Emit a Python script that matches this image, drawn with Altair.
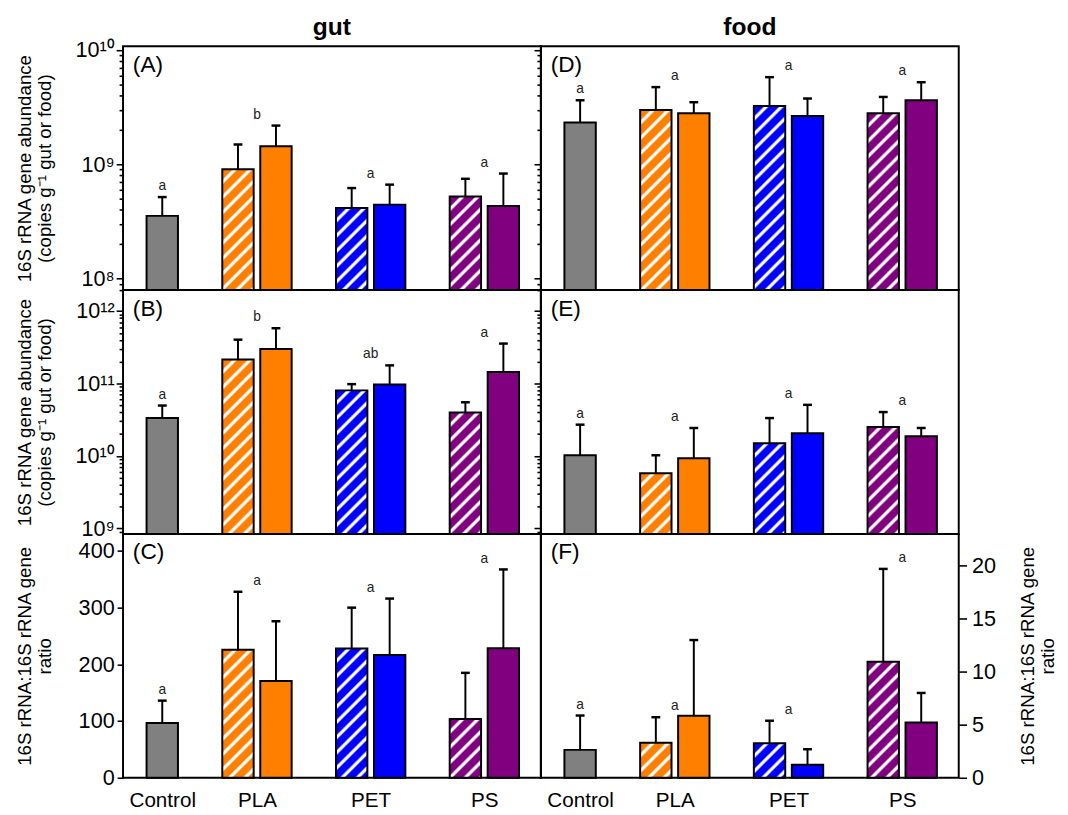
import math
import altair as alt
import pandas as pd

FONT = "Liberation Sans"

CATEGORIES = ["Control", "PLA", "PET", "PS"]
POLYMERS = ["PLA", "PET", "PS"]

# ---- (A) gut : 16S rRNA gene abundance ----
A_control = 3.54e8
A_control_err = 5.17e8
A_hatched = [9.06e8, 4.15e8, 5.23e8]
A_hatched_err = [1.49e9, 6.20e8, 7.47e8]
A_solid = [1.44e9, 4.44e8, 4.32e8]
A_solid_err = [2.18e9, 6.64e8, 8.30e8]
A_letters = ["a", "b", "a", "a"]
A_letter_at = [5.17e8, 2.18e9, 6.64e8, 8.30e8]

# ---- (B) gut : 16S rRNA abundance ----
B_control = 3.33e10
B_control_err = 4.96e10
B_hatched = [2.15e11, 8.03e10, 3.98e10]
B_hatched_err = [4.03e11, 9.80e10, 5.50e10]
B_solid = [3.00e11, 9.70e10, 1.44e11]
B_solid_err = [5.80e11, 1.78e11, 3.56e11]
B_letters = ["a", "b", "ab", "a"]
B_letter_at = [4.96e10, 5.80e11, 1.78e11, 3.56e11]

# ---- (C) gut : ratio ----
C_control = 96.5
C_control_err = 136
C_hatched = [225.7, 228, 103.5]
C_hatched_err = [328, 300, 185]
C_solid = [170.7, 216.3, 228.5]
C_solid_err = [276, 316, 367.4]
C_letters = ["a", "a", "a", "a"]
C_letter_at = [136, 328, 316, 367.4]

# ---- (D) food : 16S rRNA gene abundance ----
D_control = 2.32e9
D_control_err = 3.63e9
D_hatched = [2.98e9, 3.23e9, 2.79e9]
D_hatched_err = [4.73e9, 5.78e9, 3.88e9]
D_solid = [2.79e9, 2.64e9, 3.63e9]
D_solid_err = [3.49e9, 3.76e9, 5.22e9]
D_letters = ["a", "a", "a", "a"]
D_letter_at = [3.63e9, 4.73e9, 5.78e9, 5.22e9]

# ---- (E) food : 16S rRNA abundance ----
E_control = 1.02e10
E_control_err = 2.70e10
E_hatched = [5.74e9, 1.49e10, 2.51e10]
E_hatched_err = [1.02e10, 3.33e10, 4.03e10]
E_solid = [9.30e9, 2.06e10, 1.87e10]
E_solid_err = [2.43e10, 5.07e10, 2.43e10]
E_letters = ["a", "a", "a", "a"]
E_letter_at = [2.70e10, 2.43e10, 5.07e10, 4.03e10]

# ---- (F) food : ratio ----
F_control = 2.63
F_control_err = 5.87
F_hatched = [3.30, 3.25, 10.95]
F_hatched_err = [5.71, 5.38, 19.7]
F_solid = [5.84, 1.23, 5.22]
F_solid_err = [12.99, 2.69, 8.0]
F_letters = ["a", "a", "a", "a"]
F_letter_at = [5.87, 5.71, 5.38, 19.7]

# axis ranges / labels
ABUND_TITLE = ["16S rRNA gene abundance", "(copies g\u207b\u00b9 gut or food)"]
RATIO_TITLE = ["16S rRNA:16S rRNA gene", "ratio"]
DOM_A = [10 ** 7.90, 10 ** 10.032]
DOM_B = [10 ** 8.922, 10 ** 12.29]
DOM_C = [0, 430]
DOM_F = [0, 23]
C_TICKS = [0, 100, 200, 300, 400]
F_TICKS = [0, 5, 10, 15, 20]

COLORS = {"Control": "#808080", "PLA": "#FF8000", "PET": "#0000FF", "PS": "#800080"}

# ---- layout constants ----
W, H = 425, 248
X_DOMAIN = [-0.178, 3.497]
SLOT = 0.167      # half distance between the two bars of a pair
HALF = 0.138      # half bar width (category units)
PX = W / (X_DOMAIN[1] - X_DOMAIN[0])

SUP = str.maketrans("0123456789-", "\u2070\u00b9\u00b2\u00b3\u2074\u2075\u2076\u2077\u2078\u2079\u207b")
MAJOR_TEST = "abs(log(datum.value)/LN10 - round(log(datum.value)/LN10)) < 0.001"


def log_ticks(lo, hi):
    vals = []
    for k in range(math.floor(math.log10(lo)), math.ceil(math.log10(hi)) + 1):
        for m in range(1, 10):
            v = m * 10 ** k
            if lo <= v <= hi:
                vals.append(float(v))
    return vals


def decade_expr(lo, hi):
    parts = []
    for k in range(math.ceil(math.log10(lo)), math.floor(math.log10(hi)) + 1):
        parts.append(f"abs(datum.value - {float(10 ** k)}) < {float(10 ** k)} * 1e-6 ? '10{str(k).translate(SUP)}'")
    return " : ".join(parts) + " : ''"


def hatch_gradient(color, w, h, period=11.0, white_frac=0.3, soft=0.8):
    s = c = math.sqrt(0.5)
    D = w * s + h * c
    a = D / (w * w * s * s + h * h * c * c)
    stops = []

    def add(o, col):
        o = min(max(o / D, 0.0), 1.0)
        if stops and o < stops[-1]["offset"]:
            o = stops[-1]["offset"]
        stops.append({"offset": round(o, 5), "color": col})

    k = 0
    while k * period < D + period:
        base = k * period
        e1 = base + (1 - white_frac) * period
        add(base + soft, color)
        add(e1 - soft, color)
        add(e1 + soft, "#FFFFFF")
        add(base + period - soft, "#FFFFFF")
        k += 1
    return {"gradient": "linear", "x1": 0, "y1": 0,
            "x2": round(a * w * s, 5), "y2": round(a * h * c, 5), "stops": stops}


def panel(d, kind, ydom, yaxis, xaxis, tag, title=None):
    rows = [dict(cat="Control", pos=0 + SLOT, val=d["control"], err=d["control_err"])]
    for i, p in enumerate(POLYMERS):
        rows.append(dict(cat=p, pos=i + 1 + SLOT, val=d["solid"][i], err=d["solid_err"][i]))
    hrows = [dict(cat=p, pos=i + 1 - SLOT, val=d["hatched"][i], err=d["hatched_err"][i])
             for i, p in enumerate(POLYMERS)]
    solid = pd.DataFrame(rows)
    hatched = pd.DataFrame(hrows)
    for df in (solid, hatched):
        df["x0"] = df["pos"] - HALF
        df["x1"] = df["pos"] + HALF
    allbars = pd.concat([solid, hatched], ignore_index=True)
    letters = pd.DataFrame(dict(pos=[0 + SLOT, 1, 2, 3], txt=d["letters"], at=d["letter_at"]))

    if kind == "log":
        yscale = alt.Scale(type="log", domain=ydom, nice=False)
        lo, hi = math.log10(ydom[0]), math.log10(ydom[1])
        ypix = lambda v: (math.log10(v) - lo) / (hi - lo) * H
    else:
        yscale = alt.Scale(domain=ydom, nice=False, zero=True)
        ypix = lambda v: (v - ydom[0]) / (ydom[1] - ydom[0]) * H
    xscale = alt.Scale(domain=X_DOMAIN, nice=False, zero=False)

    def X(f):
        return alt.X(f, type="quantitative", scale=xscale, axis=xaxis)

    def Y(f):
        return alt.Y(f, type="quantitative", scale=yscale, axis=yaxis)

    layers = []
    layers.append(
        alt.Chart(solid).mark_bar(stroke="black", strokeWidth=2).encode(
            x=X("x0"), x2=alt.X2("x1"), y=Y("val"), y2=alt.datum(ydom[0]),
            fill=alt.Fill("cat:N", scale=alt.Scale(domain=list(COLORS), range=list(COLORS.values())), legend=None),
        )
    )
    for r in hatched.to_dict("records"):
        grad = hatch_gradient(COLORS[r["cat"]], 2 * HALF * PX, ypix(r["val"]))
        layers.append(
            alt.Chart(pd.DataFrame([r])).mark_bar(fill=grad, stroke="black", strokeWidth=2).encode(
                x=X("x0"), x2=alt.X2("x1"), y=Y("val"), y2=alt.datum(ydom[0])
            )
        )
    layers.append(
        alt.Chart(allbars).mark_rule(color="black", strokeWidth=2).encode(
            x=X("pos"), y=Y("val"), y2=alt.Y2("err")
        )
    )
    layers.append(
        alt.Chart(allbars).mark_tick(orient="horizontal", color="black", size=9, thickness=2.5, opacity=1).encode(
            x=X("pos"), y=Y("err")
        )
    )
    layers.append(
        alt.Chart(letters).mark_text(fontSize=14, baseline="alphabetic", dy=-7, font=FONT, color="#222222").encode(
            x=X("pos"), y=Y("at"), text="txt:N"
        )
    )
    layers.append(
        alt.Chart(pd.DataFrame({"t": [tag]})).mark_text(fontSize=23, align="left", baseline="middle", font=FONT, color="black").encode(
            x=alt.value(10), y=alt.value(19), text="t:N"
        )
    )
    if title:
        layers.append(
            alt.Chart(pd.DataFrame({"t": [title]})).mark_text(fontSize=25, fontWeight="bold", align="center",
                                                             baseline="middle", font=FONT, color="black").encode(
                x=alt.value(W / 2), y=alt.value(-19), text="t:N"
            )
        )
    return alt.layer(*layers).properties(width=W, height=H)


def log_axis(dom, labels, title=None):
    kw = dict(values=log_ticks(*dom), tickSize={"condition": {"test": MAJOR_TEST, "value": 7}, "value": 4},
              domain=False, grid=False, tickWidth=1.6)
    if labels:
        kw.update(labelExpr=decade_expr(*dom), labelPadding=2, labelFontSize=22, title=title,
                  titleX=-90, titleY=H / 2, titleFontSize=19, titleLineHeight=20)
    else:
        kw.update(labels=False, title=None)
    return alt.Axis(**kw)


bottom_expr = " : ".join(f"datum.value < {i + 0.5} ? '{c}'" for i, c in enumerate(CATEGORIES[:-1])) + f" : '{CATEGORIES[-1]}'"
x_bottom = alt.Axis(values=[0 + SLOT, 1, 2, 3], labelExpr=bottom_expr, ticks=False, domain=False, grid=False,
                    title=None, labelFontSize=21, labelPadding=12, labelOverlap=False, labelFlush=False)

pA = panel(dict(control=A_control, control_err=A_control_err, hatched=A_hatched, hatched_err=A_hatched_err,
                solid=A_solid, solid_err=A_solid_err, letters=A_letters, letter_at=A_letter_at),
           "log", DOM_A, log_axis(DOM_A, True, ABUND_TITLE), None, "(A)", "gut")
pD = panel(dict(control=D_control, control_err=D_control_err, hatched=D_hatched, hatched_err=D_hatched_err,
                solid=D_solid, solid_err=D_solid_err, letters=D_letters, letter_at=D_letter_at),
           "log", DOM_A, log_axis(DOM_A, False), None, "(D)", "food")
pB = panel(dict(control=B_control, control_err=B_control_err, hatched=B_hatched, hatched_err=B_hatched_err,
                solid=B_solid, solid_err=B_solid_err, letters=B_letters, letter_at=B_letter_at),
           "log", DOM_B, log_axis(DOM_B, True, ABUND_TITLE), None, "(B)")
pE = panel(dict(control=E_control, control_err=E_control_err, hatched=E_hatched, hatched_err=E_hatched_err,
                solid=E_solid, solid_err=E_solid_err, letters=E_letters, letter_at=E_letter_at),
           "log", DOM_B, log_axis(DOM_B, False), None, "(E)")
c_axis = alt.Axis(values=C_TICKS, tickSize=6, tickWidth=1.6, labelPadding=3, labelFontSize=22, domain=False, grid=False,
                  title=RATIO_TITLE, titleX=-90, titleY=H / 2, titleFontSize=19, titleLineHeight=20)
pC = panel(dict(control=C_control, control_err=C_control_err, hatched=C_hatched, hatched_err=C_hatched_err,
                solid=C_solid, solid_err=C_solid_err, letters=C_letters, letter_at=C_letter_at),
           "linear", DOM_C, c_axis, x_bottom, "(C)")
f_axis = alt.Axis(orient="right", values=F_TICKS, tickSize=8, tickWidth=1.6, labelPadding=5, labelFontSize=22,
                  domain=False, grid=False, title=RATIO_TITLE, titleAngle=270, titleBaseline="top",
                  titleX=61, titleY=H / 2, titleFontSize=19, titleLineHeight=20)
pF = panel(dict(control=F_control, control_err=F_control_err, hatched=F_hatched, hatched_err=F_hatched_err,
                solid=F_solid, solid_err=F_solid_err, letters=F_letters, letter_at=F_letter_at),
           "linear", DOM_F, f_axis, x_bottom, "(F)")

chart = (
    alt.concat(pA, pD, pB, pE, pC, pF, columns=2, spacing=0, bounds="flush")
    .configure(font=FONT, padding={"left": 6, "top": 0, "right": 2, "bottom": 0})
    .configure_view(stroke="black", strokeWidth=2)
    .configure_axis(labelFont=FONT, titleFont=FONT, labelColor="black", titleColor="black",
                    tickColor="black", titleFontWeight="normal")
    .configure_title(font=FONT, color="black")
)

chart.save("out.html", embed_options={"renderer": "svg", "actions": False})
